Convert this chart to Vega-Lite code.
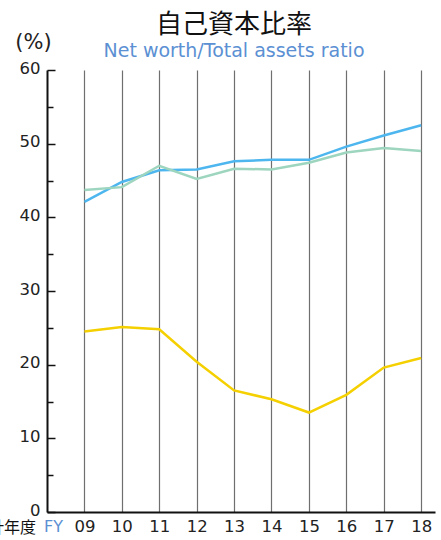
{
  "$schema": "https://vega.github.io/schema/vega-lite/v6.json",
  "width": 388,
  "height": 442,
  "autosize": {"type": "none"},
  "padding": {"left": 47, "top": 70, "right": 6, "bottom": 28},
  "background": "white",
  "config": {"view": {"stroke": null}},
  "title": {
    "text": "自己資本比率",
    "subtitle": "Net worth/Total assets ratio",
    "font": "Noto Sans CJK JP",
    "fontSize": 26,
    "fontWeight": "normal",
    "color": "#111111",
    "subtitleFont": "DejaVu Sans",
    "subtitleFontSize": 19,
    "subtitleColor": "#5b90d3",
    "subtitlePadding": 4,
    "anchor": "middle",
    "frame": "group",
    "dx": -7,
    "offset": -30
  },
  "datasets": {
    "ratio": [
      {"fy": 9, "series": "blue", "ratio": 42.1},
      {"fy": 10, "series": "blue", "ratio": 44.8},
      {"fy": 11, "series": "blue", "ratio": 46.4},
      {"fy": 12, "series": "blue", "ratio": 46.5},
      {"fy": 13, "series": "blue", "ratio": 47.6},
      {"fy": 14, "series": "blue", "ratio": 47.8},
      {"fy": 15, "series": "blue", "ratio": 47.8},
      {"fy": 16, "series": "blue", "ratio": 49.6},
      {"fy": 17, "series": "blue", "ratio": 51.1},
      {"fy": 18, "series": "blue", "ratio": 52.5},
      {"fy": 9, "series": "green", "ratio": 43.7},
      {"fy": 10, "series": "green", "ratio": 44.1},
      {"fy": 11, "series": "green", "ratio": 47.0},
      {"fy": 12, "series": "green", "ratio": 45.2},
      {"fy": 13, "series": "green", "ratio": 46.6},
      {"fy": 14, "series": "green", "ratio": 46.5},
      {"fy": 15, "series": "green", "ratio": 47.4},
      {"fy": 16, "series": "green", "ratio": 48.8},
      {"fy": 17, "series": "green", "ratio": 49.4},
      {"fy": 18, "series": "green", "ratio": 49.0},
      {"fy": 9, "series": "yellow", "ratio": 24.5},
      {"fy": 10, "series": "yellow", "ratio": 25.1},
      {"fy": 11, "series": "yellow", "ratio": 24.8},
      {"fy": 12, "series": "yellow", "ratio": 20.4},
      {"fy": 13, "series": "yellow", "ratio": 16.5},
      {"fy": 14, "series": "yellow", "ratio": 15.3},
      {"fy": 15, "series": "yellow", "ratio": 13.5},
      {"fy": 16, "series": "yellow", "ratio": 15.9},
      {"fy": 17, "series": "yellow", "ratio": 19.6},
      {"fy": 18, "series": "yellow", "ratio": 20.9}
    ]
  },
  "resolve": {"axis": {"y": "independent"}},
  "layer": [
    {
      "data": {"name": "ratio"},
      "mark": {"type": "line", "strokeWidth": 2.5, "clip": false},
      "encoding": {
        "x": {
          "field": "fy",
          "type": "quantitative",
          "scale": {"domain": [8, 18.37], "nice": false, "zero": false},
          "axis": {
            "title": null,
            "values": [9, 10, 11, 12, 13, 14, 15, 16, 17, 18],
            "labelExpr": "datum.value < 10 ? '0' + datum.value : '' + datum.value",
            "ticks": false,
            "grid": true,
            "gridColor": "#6f6f6f",
            "gridWidth": 1.2,
            "domainColor": "#111111",
            "domainWidth": 2,
            "labelFont": "DejaVu Sans",
            "labelFontSize": 16.5,
            "labelColor": "#222222",
            "labelPadding": 6
          }
        },
        "y": {
          "field": "ratio",
          "type": "quantitative",
          "scale": {"domain": [0, 60], "nice": false},
          "axis": {
            "orient": "left",
            "title": "(%)",
            "titleAngle": 0,
            "titleFont": "DejaVu Sans",
            "titleFontSize": 21,
            "titleFontWeight": "normal",
            "titleColor": "#222222",
            "titleAlign": "center",
            "titleBaseline": "middle",
            "titleX": -14,
            "titleY": -28,
            "values": [0, 10, 20, 30, 40, 50, 60],
            "tickSize": -8,
            "tickColor": "#111111",
            "tickWidth": 1.5,
            "domainColor": "#111111",
            "domainWidth": 2,
            "grid": false,
            "labelFont": "DejaVu Sans",
            "labelFontSize": 16.5,
            "labelColor": "#222222",
            "labelPadding": 15,
            "labelOffset": -2
          }
        },
        "color": {
          "field": "series",
          "type": "nominal",
          "scale": {"domain": ["yellow", "green", "blue"], "range": ["#f5d000", "#9dd5bf", "#4db6ee"]},
          "legend": null
        }
      }
    },
    {
      "data": {"values": [{}]},
      "mark": {"type": "text", "text": "会計年度", "font": "Noto Sans CJK JP", "fontSize": 16, "align": "right", "baseline": "middle", "dy": 16, "color": "#111111"},
      "encoding": {
        "x": {"datum": 7.706, "type": "quantitative"},
        "y": {
          "datum": 0,
          "type": "quantitative",
          "axis": {
            "orient": "left",
            "title": null,
            "values": [5, 15, 25, 35, 45, 55],
            "labels": false,
            "domain": false,
            "tickSize": -6,
            "tickColor": "#111111",
            "tickWidth": 1.5,
            "grid": false
          }
        }
      }
    },
    {
      "data": {"values": [{}]},
      "mark": {"type": "text", "text": "FY", "font": "DejaVu Sans", "fontSize": 16, "align": "left", "baseline": "middle", "dy": 15, "color": "#5b90d3"},
      "encoding": {"x": {"datum": 7.92, "type": "quantitative"}, "y": {"datum": 0, "type": "quantitative", "axis": null}}
    }
  ]
}
